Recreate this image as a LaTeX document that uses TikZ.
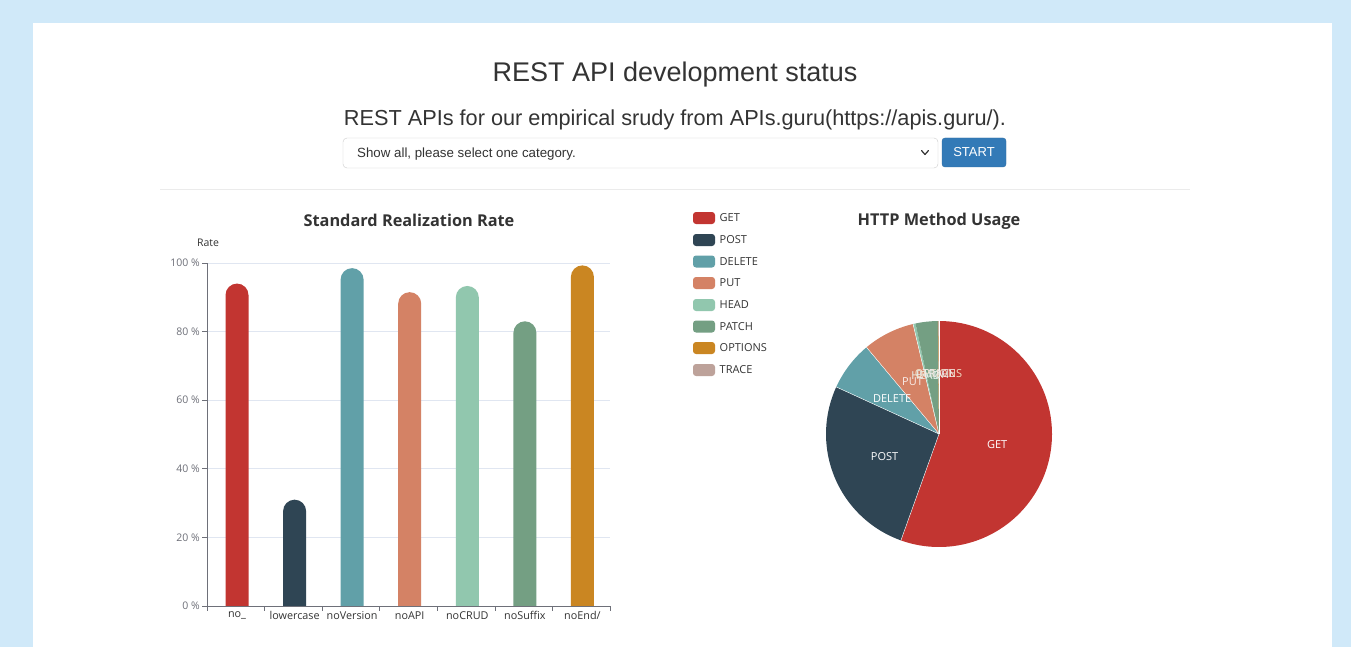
\documentclass[tikz,border=0pt]{standalone}
\usepackage{fontspec}
\setmainfont{Liberation Sans}
\newfontfamily\chartfont{Open Sans}
\definecolor{bgblue}{RGB}{208,233,249}
\definecolor{cget}{HTML}{C23531}
\definecolor{cpost}{HTML}{2F4554}
\definecolor{cdel}{HTML}{61A0A8}
\definecolor{cput}{HTML}{D48265}
\definecolor{chead}{HTML}{91C7AE}
\definecolor{cpatch}{HTML}{749F83}
\definecolor{copt}{HTML}{CA8622}
\definecolor{ctrace}{HTML}{BDA29A}
\definecolor{axisgray}{HTML}{6E7079}
\definecolor{gridgray}{HTML}{E0E6F1}
\definecolor{btnblue}{HTML}{337AB7}
\definecolor{txtdark}{HTML}{333333}
\tikzset{
  bar/.style={rounded corners=11.5pt},
  grid line/.style={draw=gridgray, line width=0.8pt},
  axis line/.style={draw=axisgray, line width=0.8pt},
  ylab/.style={anchor=east, font=\chartfont\fontsize{10.5}{12}\selectfont, text=axisgray, inner sep=0pt},
  xlab/.style={anchor=north, font=\chartfont\fontsize{10.8}{12}\selectfont, text=txtdark, inner sep=0pt},
  ctitle/.style={font=\chartfont\bfseries\fontsize{16.3}{19}\selectfont, text=txtdark, inner sep=0pt},
  legtxt/.style={anchor=west, font=\chartfont\fontsize{11}{12}\selectfont, text=txtdark, inner sep=0pt},
  pielab/.style={font=\chartfont\fontsize{11}{12}\selectfont, text=white, inner sep=0pt},
}
\begin{document}
\begin{tikzpicture}[x=1pt,y=-1pt]
\useasboundingbox (0,0) rectangle (1351,647);
\fill[bgblue] (0,0) rectangle (1351,647);
\fill[white] (33,23) rectangle (1332,647);
% header
\node[inner sep=0pt, font=\fontsize{27}{32}\selectfont, text=txtdark] (title) at (675,74.5) {REST API development status};
\node[inner sep=0pt, font=\fontsize{21.7}{26}\selectfont, text=txtdark] (subtitle) at (675,119.5) {REST APIs for our empirical srudy from APIs.guru(https://apis.guru/).};
\node[draw=black!20, rounded corners=4pt, minimum width=595pt, minimum height=30pt, inner sep=0pt] (select) at (640.5,153) {};
\node[anchor=west, inner sep=0pt, font=\fontsize{13.3}{15}\selectfont, text=txtdark] (seltext) at (357,154) {Show all, please select one category.};
\coordinate (chev) at (925,152.5);
\draw[txtdark, line width=1.2pt, line cap=round, line join=round] ([xshift=-3.5pt,yshift=2pt]chev) -- ([yshift=-2pt]chev) -- ([xshift=3.5pt,yshift=2pt]chev);
\node[fill=btnblue, draw=btnblue!90!black, rounded corners=3pt, minimum width=64pt, minimum height=29pt, inner sep=0pt, text=white, font=\fontsize{13}{15}\selectfont] (start) at (974,152.5) {START};
\draw[black!8, line width=0.8pt] (160,189) -- (1190,189);

% ===== bar chart =====
\node[ctitle] (bartitle) at (409,220) {Standard Realization Rate};
\node[inner sep=0pt, font=\chartfont\fontsize{10.5}{12}\selectfont, text=txtdark] (ratelab) at (208,243) {Rate};
\foreach \p/\y in {20/537.4,40/468.8,60/400.2,80/331.6,100/263}{
  \draw[grid line] (207,\y) -- (610,\y);
  \draw[axis line] (202,\y) -- (207,\y);
  \node[ylab] (yl\p) at (200,\y) {\p\ \%};
}
\node[ylab] (yl0) at (200,606) {0 \%};
\draw[axis line] (202,606) -- (207,606);
\draw[axis line] (207,606) -- (207,263);
% bars
\foreach \cx/\v/\c in {237/94/cget,294.6/31/cpost,352.1/98.5/cdel,409.7/91.5/cput,467.3/93.3/chead,524.9/83/cpatch,582.4/99.3/copt}{
  \pgfmathsetmacro{\top}{606-3.43*\v}
  \fill[\c, bar] (\cx-11.5,606) -- (\cx-11.5,\top) -- (\cx+11.5,\top) -- (\cx+11.5,606);
}
\draw[axis line] (207,606) -- (610,606);
\foreach \tx in {207,264.6,322.1,379.7,437.3,494.9,552.4,610}{
  \draw[axis line] (\tx,606) -- (\tx,611);
}
\foreach \cx/\lab/\n in {237/{no\_}/a,294.6/{lowercase}/b,352.1/{noVersion}/c,409.7/{noAPI}/d,467.3/{noCRUD}/e,524.9/{noSuffix}/f,582.4/{noEnd/}/g}{
  \node[xlab] (xl\n) at (\cx,611.5) {\lab};
}

% ===== legend =====
\foreach \y/\c/\lab/\n in {218/cget/GET/a,240/cpost/POST/b,261.5/cdel/DELETE/c,283/cput/PUT/d,305/chead/HEAD/e,326.5/cpatch/PATCH/f,348/copt/OPTIONS/g,370/ctrace/TRACE/h}{
  \fill[\c, rounded corners=3pt] (693,\y-6) rectangle (715,\y+6);
  \node[legtxt] (lg\n) at (719.5,\y) {\lab};
}

% ===== pie =====
\node[ctitle] (pietitle) at (939,221.5) {HTTP Method Usage};
\coordinate (pc) at (939,434);
\foreach \a/\b/\c in {-90/109.7/cget,109.7/204.6/cpost,204.6/230.1/cdel,230.1/256.7/cput,256.7/258.0/chead,258.0/269.4/cpatch,269.4/269.7/copt,269.7/270/ctrace}{
  \fill[\c] (pc) -- ++(\a:113) arc[start angle=\a, end angle=\b, radius=113] -- cycle;
}
\foreach \a/\b in {-90/109.7,109.7/204.6,204.6/230.1,230.1/256.7,256.7/258.0}{
  \draw[white, line width=0.4pt] (pc) -- ++(\a:113);
}
\node[pielab] (lget) at ([shift={(9.85:59)}]pc) {GET};
\node[pielab] (lpost) at ([shift={(157.2:59)}]pc) {POST};
\node[pielab] (ldel) at ([shift={(217.4:59)}]pc) {DELETE};
\node[pielab, text=white!85!cput] (lput) at ([shift={(243.4:59)}]pc) {PUT};
\node[pielab, text=white!80!chead] (lhead) at ([shift={(257.4:60)}]pc) {HEAD};
\node[pielab, text=white!80!cpatch] (lpatch) at ([shift={(263.7:60)}]pc) {PATCH};
\node[pielab, text=white!75!copt] (lopt) at ([shift={(269.5:60)}]pc) {OPTIONS};
\node[pielab, text=white!80!ctrace] (ltrace) at ([shift={(269.85:60)}]pc) {TRACE};
\end{tikzpicture}
\end{document}
